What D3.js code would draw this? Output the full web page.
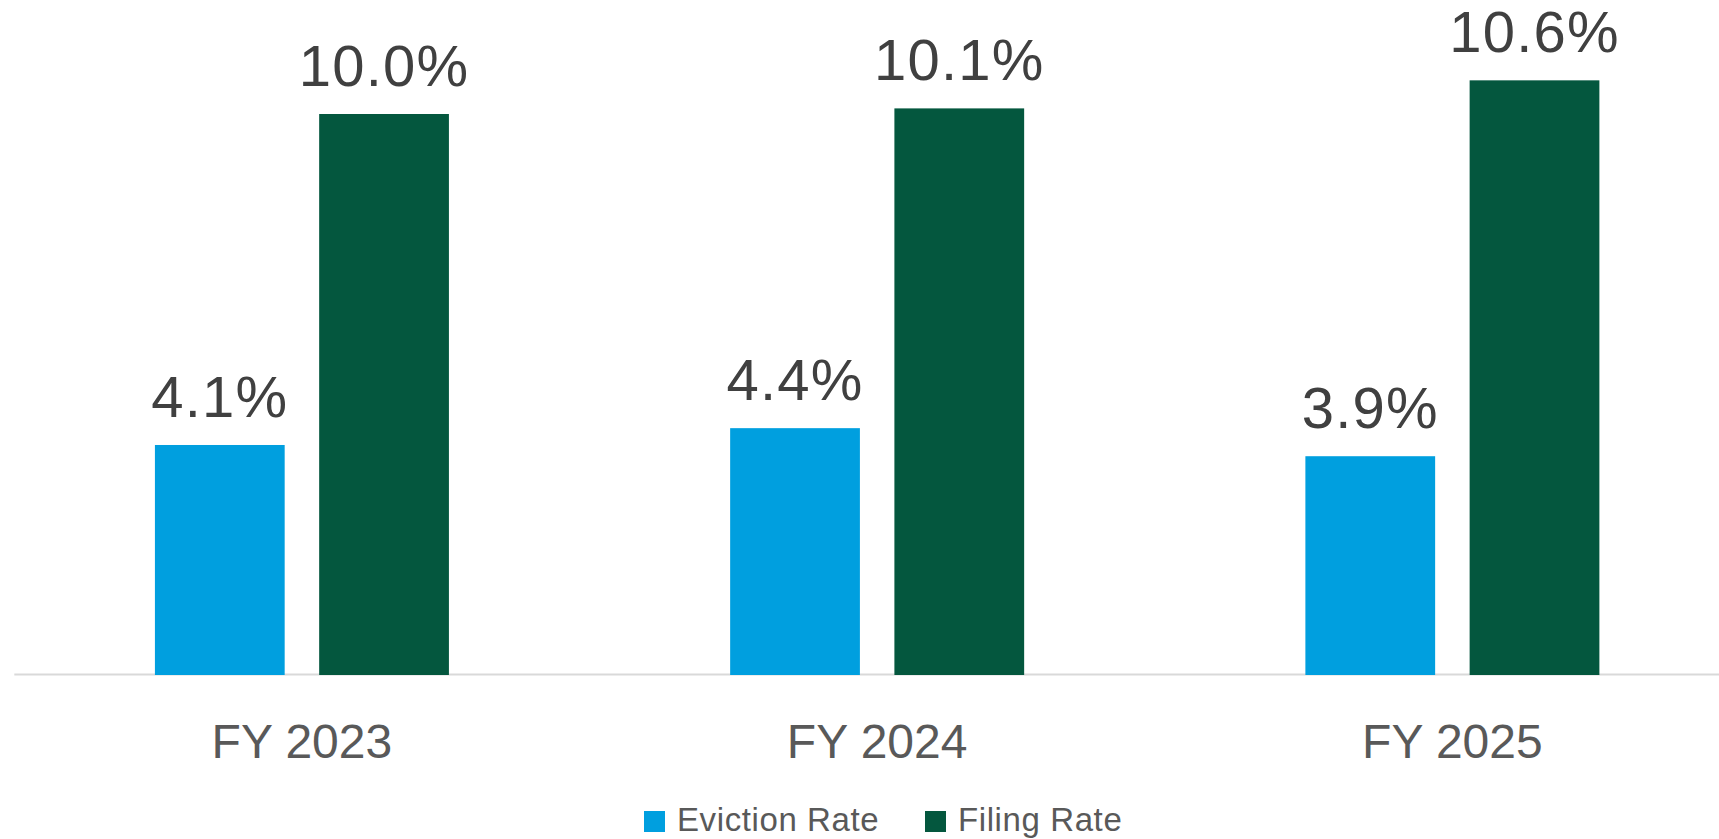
<!DOCTYPE html>
<html>
<head>
<meta charset="utf-8">
<script src="https://cdn.jsdelivr.net/npm/d3@7"></script>
<style>
  html, body { margin: 0; padding: 0; background: #fff; }
  svg { display: block; font-family: "Liberation Sans", Arial, sans-serif; }
</style>
</head>
<body>
<div class="chart"></div>
<script>
// Data
const categories = ["FY 2023", "FY 2024", "FY 2025"];
const seriesNames = ["Eviction Rate", "Filing Rate"];
const evictionRate = [4.1, 4.4, 3.9];
const filingRate = [10.0, 10.1, 10.6];
const seriesColors = ["#009fdf", "#04573e"];

const width = 1719;
const height = 839;

const svg = d3.select(".chart")
  .append("svg")
  .attr("width", width)
  .attr("height", height);

// Scales
const x0 = d3.scaleBand().domain(categories).range([14.3, 1740]).paddingInner(0).paddingOuter(0);
const groupWidth = 294;
const x1 = d3.scaleBand().domain(seriesNames).range([0, groupWidth]).paddingInner(0.21);
const y = d3.scaleLinear().domain([0, 12]).range([675, 1.8]);

const rows = categories.map((c, i) => ({
  category: c,
  values: [
    { series: seriesNames[0], value: evictionRate[i] },
    { series: seriesNames[1], value: filingRate[i] },
  ],
}));

const color = d3.scaleOrdinal().domain(seriesNames).range(seriesColors);

// Axis line
svg.append("line")
  .attr("x1", x0.range()[0])
  .attr("x2", width)
  .attr("y1", 674.5)
  .attr("y2", 674.5)
  .attr("stroke", "#d9d9d9")
  .attr("stroke-width", 2);

const groupOffset = (x0.bandwidth() - groupWidth) / 2;

const groups = svg.append("g").attr("class", "bars")
  .selectAll("g")
  .data(rows)
  .join("g")
  .attr("transform", d => `translate(${x0(d.category) + groupOffset},0)`);

groups.selectAll("rect")
  .data(d => d.values)
  .join("rect")
  .attr("x", d => x1(d.series))
  .attr("width", x1.bandwidth())
  .attr("y", d => y(d.value))
  .attr("height", d => y(0) - y(d.value))
  .attr("fill", d => color(d.series));

// Value labels
groups.selectAll("text")
  .data(d => d.values)
  .join("text")
  .attr("x", d => x1(d.series) + x1.bandwidth() / 2)
  .attr("y", d => y(d.value) - 28)
  .attr("text-anchor", "middle")
  .attr("font-size", 58)
  .attr("letter-spacing", 1.2)
  .attr("fill", "#404040")
  .text(d => d.value.toFixed(1) + "%");

// Category axis labels
const xAxis = d3.axisBottom(x0).tickSize(0).tickPadding(0);
const axisG = svg.append("g")
  .attr("transform", "translate(0,758)")
  .call(xAxis);
axisG.select(".domain").remove();
axisG.selectAll("text")
  .attr("dy", 0)
  .attr("x", groupOffset + groupWidth / 2 - x0.bandwidth() / 2)
  .attr("font-size", 48)
  .attr("font-family", "'Liberation Sans', Arial, sans-serif")
  .attr("fill", "#595959");

// Legend
const legendX = [644, 925];
const legend = svg.append("g").attr("class", "legend");
const items = legend.selectAll("g")
  .data(seriesNames)
  .join("g")
  .attr("transform", (d, i) => `translate(${legendX[i]},811)`);
items.append("rect")
  .attr("width", 21)
  .attr("height", 21)
  .attr("fill", d => color(d));
items.append("text")
  .attr("x", 33)
  .attr("y", 20)
  .attr("font-size", 33)
  .attr("letter-spacing", 0.6)
  .attr("fill", "#595959")
  .text(d => d);
</script>
</body>
</html>
